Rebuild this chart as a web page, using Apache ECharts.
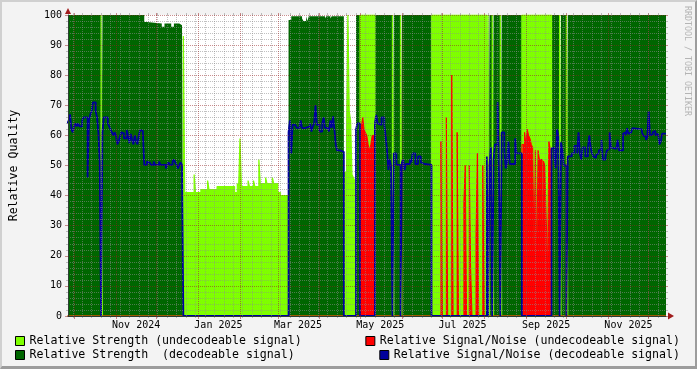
<!DOCTYPE html>
<html><head><meta charset="utf-8">
<script src="https://cdn.jsdelivr.net/npm/echarts@6/dist/echarts.min.js"></script>
<style>
html,body{margin:0;padding:0;background:#f3f3f3;}
#wrap{position:relative;width:697px;height:369px;overflow:hidden;}
#chart{position:absolute;left:0;top:0;width:697px;height:369px;}
#frame{position:absolute;left:0;top:0;width:697px;height:369px;box-sizing:border-box;border-top:2px solid #d0d0d0;border-left:2px solid #d0d0d0;border-right:2px solid #9c9c9c;border-bottom:3px solid #9c9c9c;pointer-events:none;}
</style></head><body>
<div id="wrap"><div id="chart"></div><div id="frame"></div></div>
<script>
// ---- data (change points: value holds from that day until the next entry) ----
const seriesNames = [
  'Relative Strength (undecodeable signal)',
  'Relative Strength  (decodeable signal)',
  'Relative Signal/Noise (undecodeable signal)',
  'Relative Signal/Noise (decodeable signal)'
];
const tickLabels = ['Nov 2024','Jan 2025','Mar 2025','May 2025','Jul 2025','Sep 2025','Nov 2025'];
const tickLabelDates = ['2024-11-16','2025-01-16','2025-03-16','2025-05-16','2025-07-16','2025-09-16','2025-11-16'];

const strengthUndecodeable = [
 ['2024-09-26',0],['2024-10-21',100],['2024-10-22',0],
 ['2024-12-21',93],['2024-12-22',41],['2024-12-29',47],['2024-12-30',41],['2025-01-03',42],['2025-01-08',45],['2025-01-09',42],
 ['2025-01-15',43],['2025-01-28',41],['2025-01-30',44],['2025-01-31',43],['2025-02-01',59],['2025-02-02',43],['2025-02-07',45],
 ['2025-02-08',43],['2025-02-11',45],['2025-02-12',43],['2025-02-15',52],['2025-02-16',44],['2025-02-20',46],['2025-02-21',44],
 ['2025-02-25',46],['2025-02-26',44],['2025-03-01',41],['2025-03-03',40],['2025-03-09',0],
 ['2025-04-19',47.5],['2025-04-20',48],['2025-04-21',60],['2025-04-22',100],['2025-04-23',68],['2025-04-24',65],['2025-04-25',47],
 ['2025-04-26',46],['2025-04-27',45],['2025-04-28',0],
 ['2025-05-01',100],['2025-05-12',0],['2025-05-25',100],['2025-05-26',0],['2025-05-31',100],['2025-06-01',0],
 ['2025-06-23',100],['2025-08-03',0],['2025-08-04',100],['2025-08-05',0],['2025-08-07',100],['2025-08-08',0],['2025-08-13',100],['2025-08-14',0],
 ['2025-08-29',100],['2025-09-20',0],['2025-09-26',100],['2025-09-27',0],['2025-10-01',100],['2025-10-02',0]
];
const strengthDecodeable = [
 ['2024-09-26',100],['2024-10-21',0],['2024-10-22',100],['2024-11-22',97.7],['2024-11-24',97.2],['2024-12-05',96.1],['2024-12-07',97.2],
 ['2024-12-12',96.1],['2024-12-14',97.2],['2024-12-18',96.6],['2024-12-20',97.2],['2024-12-21',0],
 ['2025-03-09',98.3],['2025-03-11',99.6],['2025-03-19',98.8],['2025-03-20',98],['2025-03-22',99.6],['2025-03-23',98],['2025-03-24',99.6],
 ['2025-04-05',98.8],['2025-04-06',99.6],['2025-04-09',98.8],['2025-04-10',99.6],['2025-04-19',0],
 ['2025-04-28',100],['2025-05-01',0],['2025-05-12',100],['2025-05-25',0],['2025-05-26',100],['2025-05-31',0],['2025-06-01',100],['2025-06-23',0],
 ['2025-08-03',100],['2025-08-04',0],['2025-08-05',100],['2025-08-07',0],['2025-08-08',100],['2025-08-13',0],['2025-08-14',100],['2025-08-29',0],
 ['2025-09-20',100],['2025-09-26',0],['2025-09-27',100],['2025-10-01',0],['2025-10-02',100]
];
const snrUndecodeable = [
 ['2024-09-26',0],
 ['2025-05-01',62],['2025-05-02',63],['2025-05-03',66],['2025-05-04',62],['2025-05-05',61],['2025-05-06',60],['2025-05-07',57],
 ['2025-05-08',55],['2025-05-09',57],['2025-05-10',60],['2025-05-12',0],
 ['2025-06-30',58],['2025-07-01',0],['2025-07-04',66],['2025-07-05',0],['2025-07-08',80],['2025-07-09',0],['2025-07-12',61],['2025-07-13',0],
 ['2025-07-17',38],['2025-07-18',50],['2025-07-19',0],['2025-07-21',50],['2025-07-22',16],['2025-07-23',0],['2025-07-26',27],['2025-07-27',54],
 ['2025-07-28',0],['2025-07-31',50],['2025-08-01',0],
 ['2025-08-29',57],['2025-08-31',61],['2025-09-01',57],['2025-09-02',62],['2025-09-03',60],['2025-09-04',59],['2025-09-05',57],
 ['2025-09-06',56],['2025-09-07',21],['2025-09-08',55],['2025-09-09',18],['2025-09-10',55],['2025-09-11',52],['2025-09-13',15],
 ['2025-09-14',51.5],['2025-09-15',50],['2025-09-16',33],['2025-09-17',15],['2025-09-18',58],['2025-09-19',55.6],['2025-09-20',0]
];
const snrDecodeable = [
 ['2024-09-26',64],['2024-09-27',65],['2024-09-28',67],['2024-09-29',62],['2024-09-30',61],['2024-10-01',63],['2024-10-02',64],
 ['2024-10-03',63],['2024-10-04',64],['2024-10-05',63],['2024-10-07',65],['2024-10-08',66],['2024-10-11',46],['2024-10-12',65],
 ['2024-10-13',67],['2024-10-14',68],['2024-10-15',71],['2024-10-17',68],['2024-10-18',66],['2024-10-19',61],['2024-10-20',51],
 ['2024-10-21',0],['2024-10-22',61],['2024-10-23',66],['2024-10-26',64],['2024-10-27',63],['2024-10-28',62],['2024-10-29',61],
 ['2024-10-30',60],['2024-10-31',61],['2024-11-01',60],['2024-11-02',57],['2024-11-03',58],['2024-11-04',59.6],['2024-11-05',61],
 ['2024-11-06',60.7],['2024-11-07',59],['2024-11-09',61.8],['2024-11-10',60],['2024-11-11',57.4],['2024-11-12',60.5],['2024-11-13',58.5],
 ['2024-11-14',57],['2024-11-15',60],['2024-11-16',58],['2024-11-17',57],['2024-11-18',60],['2024-11-19',61.8],['2024-11-20',61.5],
 ['2024-11-21',60.7],['2024-11-22',50.2],['2024-11-24',51.3],['2024-11-25',51],['2024-11-26',51.3],['2024-11-27',50.2],['2024-11-29',51.3],
 ['2024-11-30',50.2],['2024-12-03',51.3],['2024-12-04',50.2],['2024-12-08',49],['2024-12-09',50.2],['2024-12-10',51],['2024-12-11',50.2],
 ['2024-12-13',51.3],['2024-12-14',52],['2024-12-15',51],['2024-12-16',50.2],['2024-12-17',49],['2024-12-18',50.2],['2024-12-19',51],
 ['2024-12-20',50.2],['2024-12-21',0],
 ['2025-03-09',61],['2025-03-10',65],['2025-03-11',54],['2025-03-12',63.5],['2025-03-14',63],['2025-03-15',62.5],['2025-03-17',63],
 ['2025-03-18',65],['2025-03-19',62.4],['2025-03-21',63],['2025-03-25',64],['2025-03-26',61.3],['2025-03-27',63],['2025-03-28',64],
 ['2025-03-29',70],['2025-03-30',63.5],['2025-04-01',61.3],['2025-04-03',64],['2025-04-04',66],['2025-04-05',62.5],['2025-04-07',62],
 ['2025-04-08',61.3],['2025-04-09',65],['2025-04-10',62.5],['2025-04-11',66.3],['2025-04-12',62],['2025-04-13',57],['2025-04-14',55],
 ['2025-04-16',54.5],['2025-04-19',0],
 ['2025-04-28',62],['2025-04-29',64],['2025-05-01',0],
 ['2025-05-12',64],['2025-05-13',66.8],['2025-05-14',64],['2025-05-15',63.5],['2025-05-17',66],['2025-05-19',63.5],['2025-05-20',59.7],
 ['2025-05-21',55],['2025-05-22',48.5],['2025-05-23',52],['2025-05-24',49.6],['2025-05-25',0],['2025-05-26',54],['2025-05-28',50.2],
 ['2025-05-31',0],['2025-06-01',51],['2025-06-02',52],['2025-06-03',48.5],['2025-06-04',50.5],['2025-06-07',52],['2025-06-08',51],
 ['2025-06-09',54],['2025-06-11',50.5],['2025-06-13',53],['2025-06-15',51],['2025-06-16',50.5],['2025-06-18',50.2],['2025-06-23',0],
 ['2025-08-03',53],['2025-08-04',0],['2025-08-05',50],['2025-08-06',56],['2025-08-07',0],['2025-08-08',52],['2025-08-09',57],
 ['2025-08-11',71],['2025-08-12',47],['2025-08-13',0],['2025-08-14',61],['2025-08-16',55],['2025-08-17',49],['2025-08-18',51],
 ['2025-08-19',58],['2025-08-20',50.5],['2025-08-22',51],['2025-08-23',50.5],['2025-08-24',59],['2025-08-25',54],['2025-08-27',53.5],
 ['2025-08-28',54],['2025-08-29',0],
 ['2025-09-20',55.6],['2025-09-21',56],['2025-09-22',53],['2025-09-23',49],['2025-09-24',62],['2025-09-25',60],['2025-09-26',0],
 ['2025-09-27',57.7],['2025-09-28',55],['2025-09-29',50],['2025-10-01',0],['2025-10-02',53],['2025-10-05',54],['2025-10-07',56.5],
 ['2025-10-09',54],['2025-10-10',61],['2025-10-11',54],['2025-10-12',52],['2025-10-13',56],['2025-10-15',53],['2025-10-17',56],
 ['2025-10-18',60],['2025-10-19',56],['2025-10-20',54],['2025-10-21',53],['2025-10-22',52.5],['2025-10-23',53.5],['2025-10-24',54],
 ['2025-10-25',55],['2025-10-26',55.5],['2025-10-27',58.5],['2025-10-28',52],['2025-10-30',53],['2025-10-31',55],['2025-11-01',55.5],
 ['2025-11-02',61],['2025-11-03',56],['2025-11-04',55.5],['2025-11-07',56],['2025-11-08',58.5],['2025-11-09',55],['2025-11-12',60.6],
 ['2025-11-13',61],['2025-11-14',60],['2025-11-15',62.4],['2025-11-16',60.5],['2025-11-17',61],['2025-11-18',60.5],['2025-11-19',62.4],
 ['2025-11-20',62],['2025-11-26',61],['2025-11-27',60],['2025-11-28',59.5],['2025-11-29',58.5],['2025-11-30',59.5],['2025-12-01',68],
 ['2025-12-02',60],['2025-12-03',60.3],['2025-12-04',61],['2025-12-05',61.5],['2025-12-06',60],['2025-12-07',60.5],['2025-12-08',60],
 ['2025-12-09',57],['2025-12-10',58],['2025-12-11',60.6]
];
const axisStart = '2024-09-26 11:18';
const axisEnd = '2025-12-13 20:24';

// ---- chart ----
const P = s => echarts.time.parse(s).getTime();
const xMin = P(axisStart), xMax = P(axisEnd);
const MONO = '"DejaVu Sans Mono", monospace';
const GRIDC = 'rgba(140,140,140,0.55)';
const MGRIDC = 'rgba(150,30,30,0.5)';
const ARROW = '#a01c1c';
const AXISC = '#2c3d33';

const monthStarts = [];
for (let y = 2024, m = 8; ; ) {
  const t = new Date(y, m, 1).getTime();
  if (t > xMax) break;
  if (t >= xMin) monthStarts.push(t);
  m++; if (m > 11) { m = 0; y++; }
}
const weekStarts = [];
for (let d = new Date(2024, 8, 30); d.getTime() <= xMax; d = new Date(d.getFullYear(), d.getMonth(), d.getDate() + 7)) {
  if (d.getTime() >= xMin) weekStarts.push(d.getTime());
}
const labelTimes = tickLabelDates.map(P);
function labelFor(v) {
  let best = 0;
  labelTimes.forEach((t, i) => { if (Math.abs(t - v) < Math.abs(labelTimes[best] - v)) best = i; });
  return tickLabels[best];
}
function steps(points) {
  const out = points.map(p => [P(p[0]), p[1]]);
  out.push([xMax, points[points.length - 1][1]]);
  return out;
}
const COLORS = ['#7fff00', '#006600', '#ff0000', '#00009c'];
function areaSeries(i, data, edge) {
  return { name: seriesNames[i], type: 'line', step: 'end', data: steps(data), symbol: 'none', showSymbol: false,
    color: COLORS[i], lineStyle: { width: edge, color: COLORS[i] }, areaStyle: { color: COLORS[i], opacity: 1 }, z: 2, animation: false };
}

const chart = echarts.init(document.getElementById('chart'), null, { renderer: 'canvas' });
const legendBase = { icon: 'rect', itemWidth: 9, itemHeight: 9, padding: 0, selectedMode: false,
  itemStyle: { borderColor: '#000', borderWidth: 1 },
  textStyle: { fontFamily: MONO, fontSize: 11.6, color: '#000' } };
const xBase = { type: 'value', min: xMin, max: xMax, scale: true };

chart.setOption({
  backgroundColor: '#f3f3f3',
  animation: false,
  grid: { left: 67, top: 15, width: 599, height: 301, show: true, backgroundColor: '#ffffff', borderWidth: 0 },
  legend: [
    Object.assign({}, legendBase, { data: [seriesNames[0]], left: 15, top: 335 }),
    Object.assign({}, legendBase, { data: [seriesNames[1]], left: 15, top: 349 }),
    Object.assign({}, legendBase, { data: [seriesNames[2]], right: 17, top: 335 }),
    Object.assign({}, legendBase, { data: [seriesNames[3]], right: 17, top: 349 })
  ],
  xAxis: [
    Object.assign({}, xBase, { position: 'bottom', z: 6,
      axisLine: { show: true, onZero: false, lineStyle: { color: AXISC, width: 1 } },
      axisTick: { show: true, customValues: monthStarts, length: 3, lineStyle: { color: MGRIDC } },
      axisLabel: { show: true, customValues: labelTimes, formatter: v => labelFor(v), fontFamily: MONO, fontSize: 10, color: '#000', margin: 4 },
      splitLine: { show: true, lineStyle: { color: MGRIDC, type: [1, 1], width: 1 } } }),
    Object.assign({}, xBase, { position: 'bottom', z: 5,
      axisLine: { show: true, onZero: false, symbol: ['none', 'triangle'], symbolSize: [7, 6], symbolOffset: [0, 5], lineStyle: { color: ARROW, width: 0 } },
      axisTick: { show: true, customValues: weekStarts, length: 2, lineStyle: { color: GRIDC } },
      axisLabel: { show: false },
      splitLine: { show: true, lineStyle: { color: GRIDC, type: [1, 1], width: 1 } } }),
    Object.assign({}, xBase, { position: 'top', z: 6,
      axisLine: { show: false, onZero: false },
      axisTick: { show: true, customValues: monthStarts, length: 2, lineStyle: { color: MGRIDC } },
      axisLabel: { show: false }, splitLine: { show: false } }),
    Object.assign({}, xBase, { position: 'top', z: 6,
      axisLine: { show: false, onZero: false },
      axisTick: { show: true, customValues: weekStarts, length: 2, lineStyle: { color: GRIDC } },
      axisLabel: { show: false }, splitLine: { show: false } })
  ],
  yAxis: [
    { type: 'value', min: 0, max: 100, interval: 10, position: 'left', z: 6,
      axisLine: { show: true, onZero: false, lineStyle: { color: AXISC } },
      axisTick: { show: true, length: 3, lineStyle: { color: MGRIDC } },
      minorTick: { show: true, splitNumber: 5, length: 2, lineStyle: { color: GRIDC } },
      axisLabel: { fontFamily: MONO, fontSize: 10, color: '#000', margin: 6 },
      splitLine: { show: true, lineStyle: { color: MGRIDC, type: [1, 1] } },
      minorSplitLine: { show: true, lineStyle: { color: GRIDC, type: [1, 1] } },
      name: 'Relative Quality', nameLocation: 'middle', nameGap: 48, nameRotate: 90,
      nameTextStyle: { fontFamily: MONO, fontSize: 11.6, color: '#000' } },
    { type: 'value', min: 0, max: 100, interval: 10, position: 'right', z: 6,
      axisLine: { show: false, onZero: false },
      axisTick: { show: true, length: 2, lineStyle: { color: MGRIDC } },
      minorTick: { show: true, splitNumber: 5, length: 2, lineStyle: { color: GRIDC } },
      axisLabel: { show: false }, splitLine: { show: false } },
    { type: 'value', min: 0, max: 100, interval: 10, position: 'left', z: 7,
      axisLine: { show: true, onZero: false, symbol: ['none', 'triangle'], symbolSize: [6, 6], symbolOffset: [0, 4], lineStyle: { color: ARROW, width: 0 } },
      axisTick: { show: false }, axisLabel: { show: false }, splitLine: { show: false } }
  ],
  graphic: [
    { type: 'text', x: 687, y: 6, rotation: -Math.PI / 2, silent: true,
      style: { text: 'RRDTOOL / TOBI OETIKER', fill: '#b4b4b4', font: '8.3px ' + MONO, textAlign: 'left', textVerticalAlign: 'middle' } }
  ],
  series: [
    areaSeries(0, strengthUndecodeable, 1.2),
    areaSeries(1, strengthDecodeable, 0),
    areaSeries(2, snrUndecodeable, 1),
    { name: seriesNames[3], type: 'line', step: 'end', data: steps(snrDecodeable), symbol: 'none', showSymbol: false,
      color: COLORS[3], lineStyle: { width: 1.8, color: COLORS[3] }, z: 3, animation: false }
  ]
});
</script></body></html>
